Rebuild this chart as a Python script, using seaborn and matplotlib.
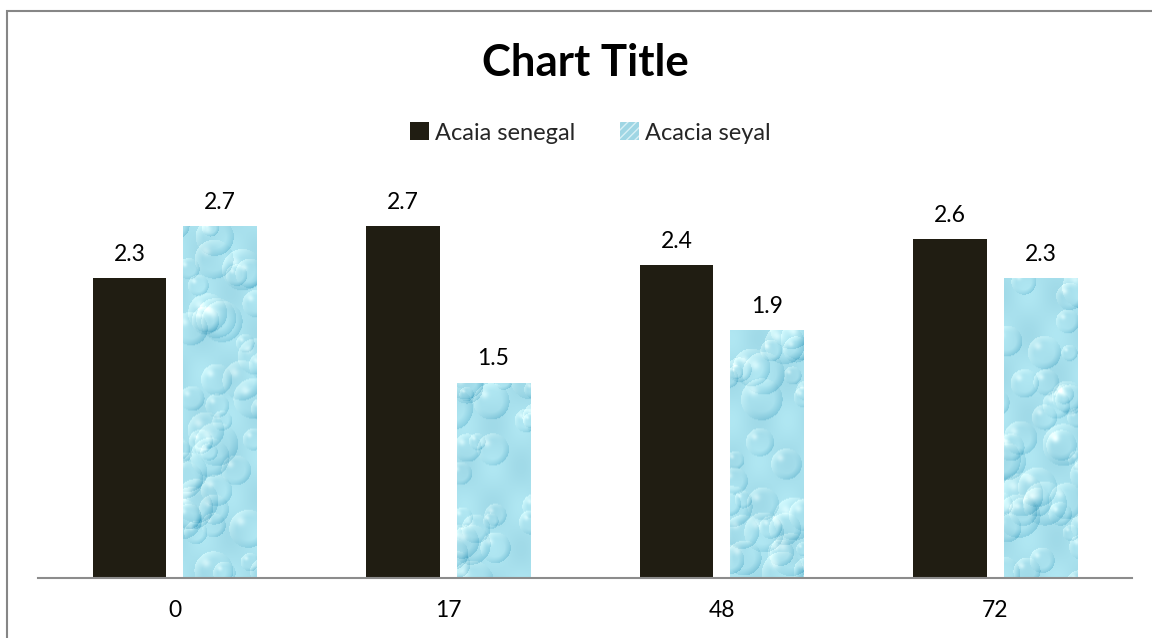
import numpy as np
import pandas as pd
import matplotlib
matplotlib.use("Agg")
import matplotlib.pyplot as plt
from matplotlib.patches import Patch, Rectangle
import seaborn as sns

# Data
hours = ["0", "17", "48", "72"]
senegal = [2.3, 2.7, 2.4, 2.6]
seyal = [2.7, 1.5, 1.9, 2.3]
series_names = ["Acaia senegal", "Acacia seyal"]

df = pd.DataFrame({
    "hour": hours * 2,
    "value": senegal + seyal,
    "species": [series_names[0]] * len(hours) + [series_names[1]] * len(hours),
})

sns.set_theme(style="white")
plt.rcParams["font.family"] = ["Lato", "DejaVu Sans"]

W, H = 1152, 638
fig = plt.figure(figsize=(W / 100, H / 100), dpi=100)
ax = fig.add_axes([38 / W, (H - 578) / H, (1132 - 38) / W, (578 - 187) / H])

dark = "#201d12"
water = "#a9e0ec"
sns.barplot(data=df, x="hour", y="value", hue="species", order=hours,
            hue_order=series_names, palette=[dark, water], width=0.662,
            gap=0.193, ax=ax, legend=False, saturation=1, linewidth=0)

ax.set_ylim(0, 3.0)
ax.set_xlim(-0.5, len(hours) - 0.5)


def drop_texture(h, w, seed):
    """Procedural water-drop texture (RGB array)."""
    rng = np.random.default_rng(seed)
    yy, xx = np.mgrid[0:h, 0:w].astype(float)
    base = np.array([0.66, 0.88, 0.93])
    img = np.ones((h, w, 3)) * base
    # soft large-scale variation
    img += (np.sin(xx / 9.0 + rng.uniform(0, 6)) * np.cos(yy / 13.0 + rng.uniform(0, 6)))[..., None] \
        * np.array([0.03, 0.025, 0.02])
    n = int(h * w / 520)
    for _ in range(n):
        cx, cy = rng.uniform(-8, w + 8), rng.uniform(-8, h + 8)
        r = rng.uniform(7, 22)
        d = np.hypot(xx - cx, yy - cy) / r
        inside = d < 1
        ang = np.arctan2(yy - cy, xx - cx)
        rim = np.clip((d - 0.6) / 0.4, 0, 1) * inside
        dark_side = rim * (0.5 + 0.5 * np.cos(ang - np.pi / 4))
        light_side = rim * (0.5 + 0.5 * np.cos(ang + 3 * np.pi / 4))
        img -= dark_side[..., None] * np.array([0.16, 0.10, 0.07])
        img += light_side[..., None] * np.array([0.14, 0.08, 0.05])
        hl = np.exp(-(((xx - cx + 0.4 * r) ** 2 + (yy - cy + 0.4 * r) ** 2) / (0.05 * r * r)))
        img += (hl * inside)[..., None] * np.array([0.16, 0.08, 0.05])
    return np.clip(img, 0, 1)


patches = ax.patches
n = len(hours)
for i, p in enumerate(patches[n:2 * n]):
    x0, y0 = p.get_x(), p.get_y()
    bw, bh = p.get_width(), p.get_height()
    px_h = max(int(bh / 3.0 * 391), 10)
    tex = drop_texture(px_h, 74, seed=10 + i)
    im = ax.imshow(tex, extent=[x0, x0 + bw, y0, y0 + bh], aspect="auto",
                   zorder=p.get_zorder() + 0.1, interpolation="bilinear")
    im.set_clip_path(p)

# value labels
for p, v in zip(patches[:2 * n], senegal + seyal):
    ax.text(p.get_x() + p.get_width() / 2, v + 0.1, f"{v:.1f}",
            ha="center", va="bottom", fontsize=16.5, color="#000000")

ax.set_xlabel("")
ax.set_ylabel("")
ax.set_yticks([])
for s in ["left", "right", "top"]:
    ax.spines[s].set_visible(False)
ax.spines["bottom"].set_color("#8c8c8c")
ax.spines["bottom"].set_linewidth(1.5)
ax.tick_params(axis="x", length=0, pad=16, labelsize=16.5, colors="#000000")

# chart title and legend
fig.text(585 / W, 1 - 63 / H, "Chart Title", ha="center", va="center",
         fontsize=31.5, fontweight="bold", color="#000000")
handles = [Patch(facecolor=dark, edgecolor="none"),
           Patch(facecolor="#9fd6e4", edgecolor="#d8f0f6", hatch="////", linewidth=0)]
leg = fig.legend(handles, series_names, loc="center", bbox_to_anchor=(590 / W, 1 - 133 / H),
                 ncol=2, frameon=False, fontsize=17, handlelength=0.8, handleheight=0.8,
                 handletextpad=0.25, columnspacing=1.9)

# chart area border
fig.add_artist(Rectangle((6.5 / W, -0.1), 1.2, 1 - 11 / H + 0.1, transform=fig.transFigure,
                         fill=False, edgecolor="#868686", linewidth=1.5))

fig.savefig("out.png", dpi=100)
